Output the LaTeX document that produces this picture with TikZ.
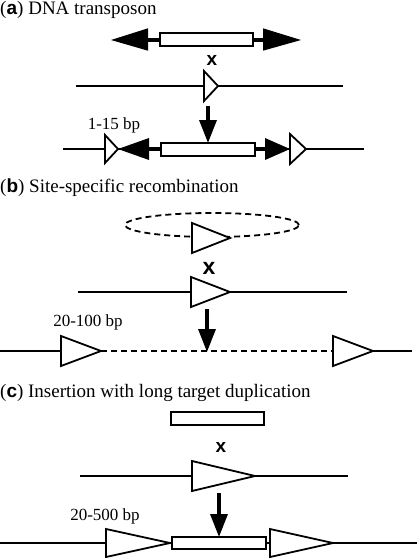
\documentclass[tikz,border=0pt]{standalone}
\usepackage{fontspec}
\setmainfont{Liberation Serif}
\setsansfont{Liberation Sans}
\usetikzlibrary{arrows.meta}
\begin{document}
\begin{tikzpicture}[x=1pt,y=-1pt,
  dna/.style={line width=1.8pt},
  link/.style={line width=4.5pt},
  tebox/.style={draw, line width=1.8pt, fill=white},
  site/.style={draw, line width=1.8pt, fill=white, line join=miter},
  head/.style={fill=black},
  ttl/.style={font=\fontsize{19}{22}\selectfont, anchor=base west, inner sep=0pt},
  lbl/.style={font=\fontsize{17}{20}\selectfont, anchor=base, inner sep=0pt},
  cross/.style={font=\sffamily\bfseries\fontsize{19}{22}\selectfont, inner sep=0pt},
  down/.style={line width=3.5pt, -{Triangle[width=17pt,length=23pt]}},
  dsh/.style={dash pattern=on 6pt off 4pt}
]
\useasboundingbox (0,0) rectangle (418,558);

% ---------------- (a) ----------------
\node[ttl] (ta) at (0,14.5) {(\textbf{\sffamily a}) DNA transposon};
% free element
\draw[link] (148,40) -- (160,40);
\draw[link] (253,40) -- (263,40);
\fill[head] (111,40) -- (148,28.3) -- (148,50.7) -- cycle;
\fill[head] (301,40) -- (263,28.3) -- (263,50.7) -- cycle;
\draw[tebox] (160,33) rectangle (253,46);
\node[cross] (xa) at (212,60.3) {x};
% target
\coordinate (a1L) at (76,86); \coordinate (a1R) at (343,86);
\draw[dna] (a1L) -- (a1R);
\draw[site] (204,71) -- (218,86) -- (204,101) -- cycle;
\coordinate (da1) at (208,106); \coordinate (da2) at (208,143);
\draw[down] (da1) -- (da2);
\node[lbl] (la) at (114,129) {1-15 bp};
% product
\coordinate (a2L) at (63,149); \coordinate (a2R) at (364,149);
\draw[dna] (a2L) -- (a2R);
\draw[link] (149,149) -- (161,149);
\draw[link] (255,149) -- (265,149);
\fill[head] (118,149) -- (149,138) -- (149,160) -- cycle;
\fill[head] (290,149) -- (265,138) -- (265,160) -- cycle;
\draw[tebox] (161,143) rectangle (255,156);
\draw[site] (105,135) -- (118,149) -- (105,163) -- cycle;
\draw[site] (290,134) -- (306,149) -- (290,164) -- cycle;

% ---------------- (b) ----------------
\node[ttl] (tb) at (0,192) {(\textbf{\sffamily b}) Site-specific recombination};
\draw[dna,dsh] (212,225) ellipse [x radius=87pt, y radius=12pt];
\draw[site] (192,223) -- (230,238) -- (192,253) -- cycle;
\node[cross, font=\sffamily\bfseries\fontsize{23}{26}\selectfont] (xb) at (209,268.3) {x};
\coordinate (b1L) at (78,292); \coordinate (b1R) at (347,292);
\draw[dna] (b1L) -- (b1R);
\draw[site] (191,277) -- (230,292) -- (191,307) -- cycle;
\coordinate (db1) at (207,309); \coordinate (db2) at (207,352);
\draw[down] (db1) -- (db2);
\node[lbl] (lb) at (88,326) {20-100 bp};
\coordinate (b2L) at (0,351); \coordinate (b2a) at (61,351);
\coordinate (b2b) at (101,351); \coordinate (b2c) at (333,351);
\coordinate (b2d) at (373,351); \coordinate (b2R) at (412,351);
\draw[dna] (b2L) -- (b2a);
\draw[dna,dsh] (b2b) -- (b2c);
\draw[dna] (b2d) -- (b2R);
\draw[site] (61,336) -- (101,351) -- (61,366) -- cycle;
\draw[site] (333,336) -- (373,351) -- (333,366) -- cycle;

% ---------------- (c) ----------------
\node[ttl] (tc) at (0,397) {(\textbf{\sffamily c}) Insertion with long target duplication};
\draw[tebox] (171,412) rectangle (264,425);
\node[cross] (xc) at (221,447.5) {x};
\coordinate (c1L) at (80,476); \coordinate (c1R) at (348,476);
\draw[dna] (c1L) -- (c1R);
\draw[site] (192,461) -- (255,476) -- (192,491) -- cycle;
\coordinate (dc1) at (219,493); \coordinate (dc2) at (219,537);
\draw[down] (dc1) -- (dc2);
\node[lbl] (lc) at (105,520) {20-500 bp};
\coordinate (c2L) at (0,543); \coordinate (c2R) at (417,543);
\draw[dna] (c2L) -- (c2R);
\draw[site] (106,529) -- (170,543) -- (106,557) -- cycle;
\draw[tebox] (172,537) rectangle (266,549);
\draw[site] (270,529) -- (333,543) -- (270,557) -- cycle;
\end{tikzpicture}
\end{document}
